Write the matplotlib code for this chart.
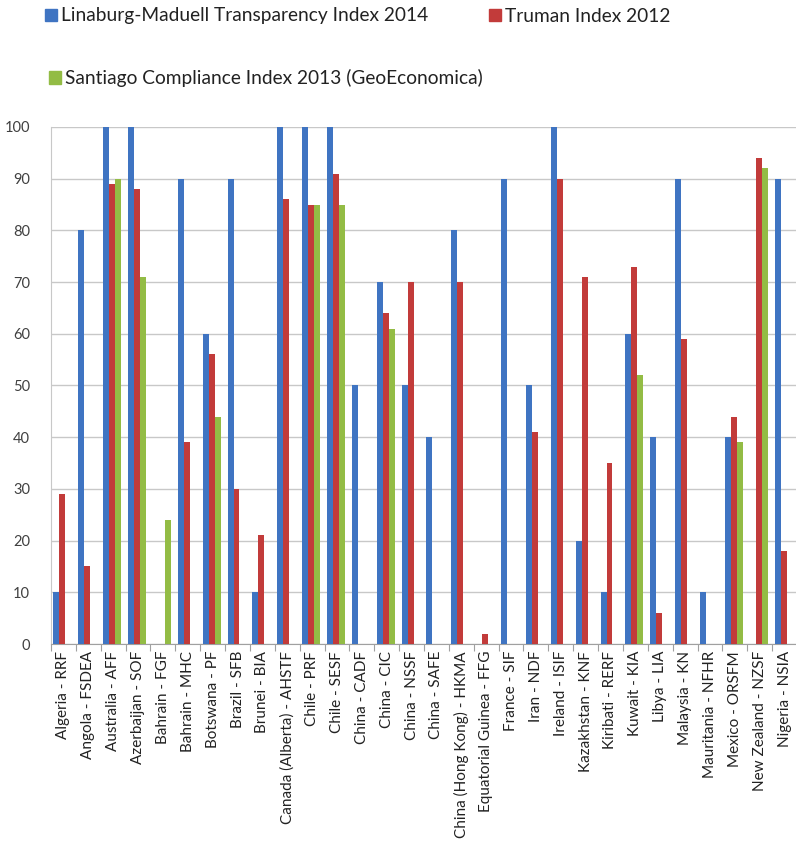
import matplotlib
matplotlib.use("Agg")
import matplotlib.pyplot as plt
import numpy as np
from matplotlib.patches import Patch

categories = [
    "Algeria - RRF", "Angola - FSDEA", "Australia - AFF", "Azerbaijan - SOF",
    "Bahrain - FGF", "Bahrain - MHC", "Botswana - PF", "Brazil - SFB",
    "Brunei - BIA", "Canada (Alberta) - AHSTF", "Chile - PRF", "Chile - SESF",
    "China - CADF", "China - CIC", "China - NSSF", "China - SAFE",
    "China (Hong Kong) - HKMA", "Equatorial Guinea - FFG", "France - SIF",
    "Iran - NDF", "Ireland - ISIF", "Kazakhstan - KNF", "Kiribati - RERF",
    "Kuwait - KIA", "Libya - LIA", "Malaysia - KN", "Mauritania - NFHR",
    "Mexico - ORSFM", "New Zealand - NZSF", "Nigeria - NSIA",
]
linaburg = [10, 80, 100, 100, 0, 90, 60, 90, 10, 100, 100, 100, 50, 70, 50, 40,
            80, 0, 90, 50, 100, 20, 10, 60, 40, 90, 10, 40, 0, 90]
truman = [29, 15, 89, 88, 0, 39, 56, 30, 21, 86, 85, 91, 0, 64, 70, 0,
          70, 2, 0, 41, 90, 71, 35, 73, 6, 59, 0, 44, 94, 18]
santiago = [0, 0, 90, 71, 24, 0, 44, 0, 0, 0, 85, 85, 0, 61, 0, 0,
            0, 0, 0, 0, 0, 0, 0, 52, 0, 0, 0, 39, 92, 0]
series_names = ["Linaburg-Maduell Transparency Index 2014", "Truman Index 2012",
                "Santiago Compliance Index 2013 (GeoEconomica)"]
colors = ["#3F74C2", "#C23B3A", "#93BC45"]

plt.rcParams['font.family'] = ['Lato', 'DejaVu Sans']

W, H = 796, 847
fig = plt.figure(figsize=(W / 100, H / 100), dpi=100)
left_px, right_px, top_px, bot_px = 51, 797, 127, 644
ax = fig.add_axes([left_px / W, 1 - bot_px / H, (right_px - left_px) / W,
                   (bot_px - top_px) / H])

x = np.arange(len(categories))
w = 0.24
for i, (vals, c) in enumerate(zip([linaburg, truman, santiago], colors)):
    ax.bar(x + (i - 1) * w - 0.04, vals, width=w, color=c, zorder=3)

ax.set_xlim(-0.5, len(categories) - 0.5)
ax.set_ylim(0, 100)
ax.set_yticks(np.arange(0, 101, 10))
ax.yaxis.grid(True, color="#C8C8C8", linewidth=1.0, zorder=0)
ax.tick_params(axis='y', length=0, labelsize=10.5, colors="#404040", pad=15)

ax.set_xticks(x)
ax.set_xticklabels(categories, rotation=90, fontsize=11, color="#222222")
ax.set_xticks(np.arange(-0.5, len(categories), 1), minor=True)
ax.tick_params(axis='x', which='major', length=0, pad=5)
ax.tick_params(axis='x', which='minor', length=5, color="#A0A0A0", width=0.8)

for s in ["top", "right"]:
    ax.spines[s].set_visible(False)
ax.spines["left"].set_color("#C8C8C8")
ax.spines["bottom"].set_color("#A0A0A0")

fs = 13.8
fs_px = fs * 100 / 72
hl = 12 / fs_px
leg_specs = [(0, 45, 16), (1, 489, 16), (2, 49, 78)]
for idx, lx, ly in leg_specs:
    leg = fig.legend(handles=[Patch(color=colors[idx], label=series_names[idx])],
                     loc="center left", bbox_to_anchor=(lx / W, 1 - ly / H),
                     frameon=False, fontsize=fs, handlelength=hl, handleheight=hl,
                     handletextpad=0.2, borderpad=0, borderaxespad=0)
    for t in leg.get_texts():
        t.set_color("#222222")

fig.savefig("out.png", dpi=100)
